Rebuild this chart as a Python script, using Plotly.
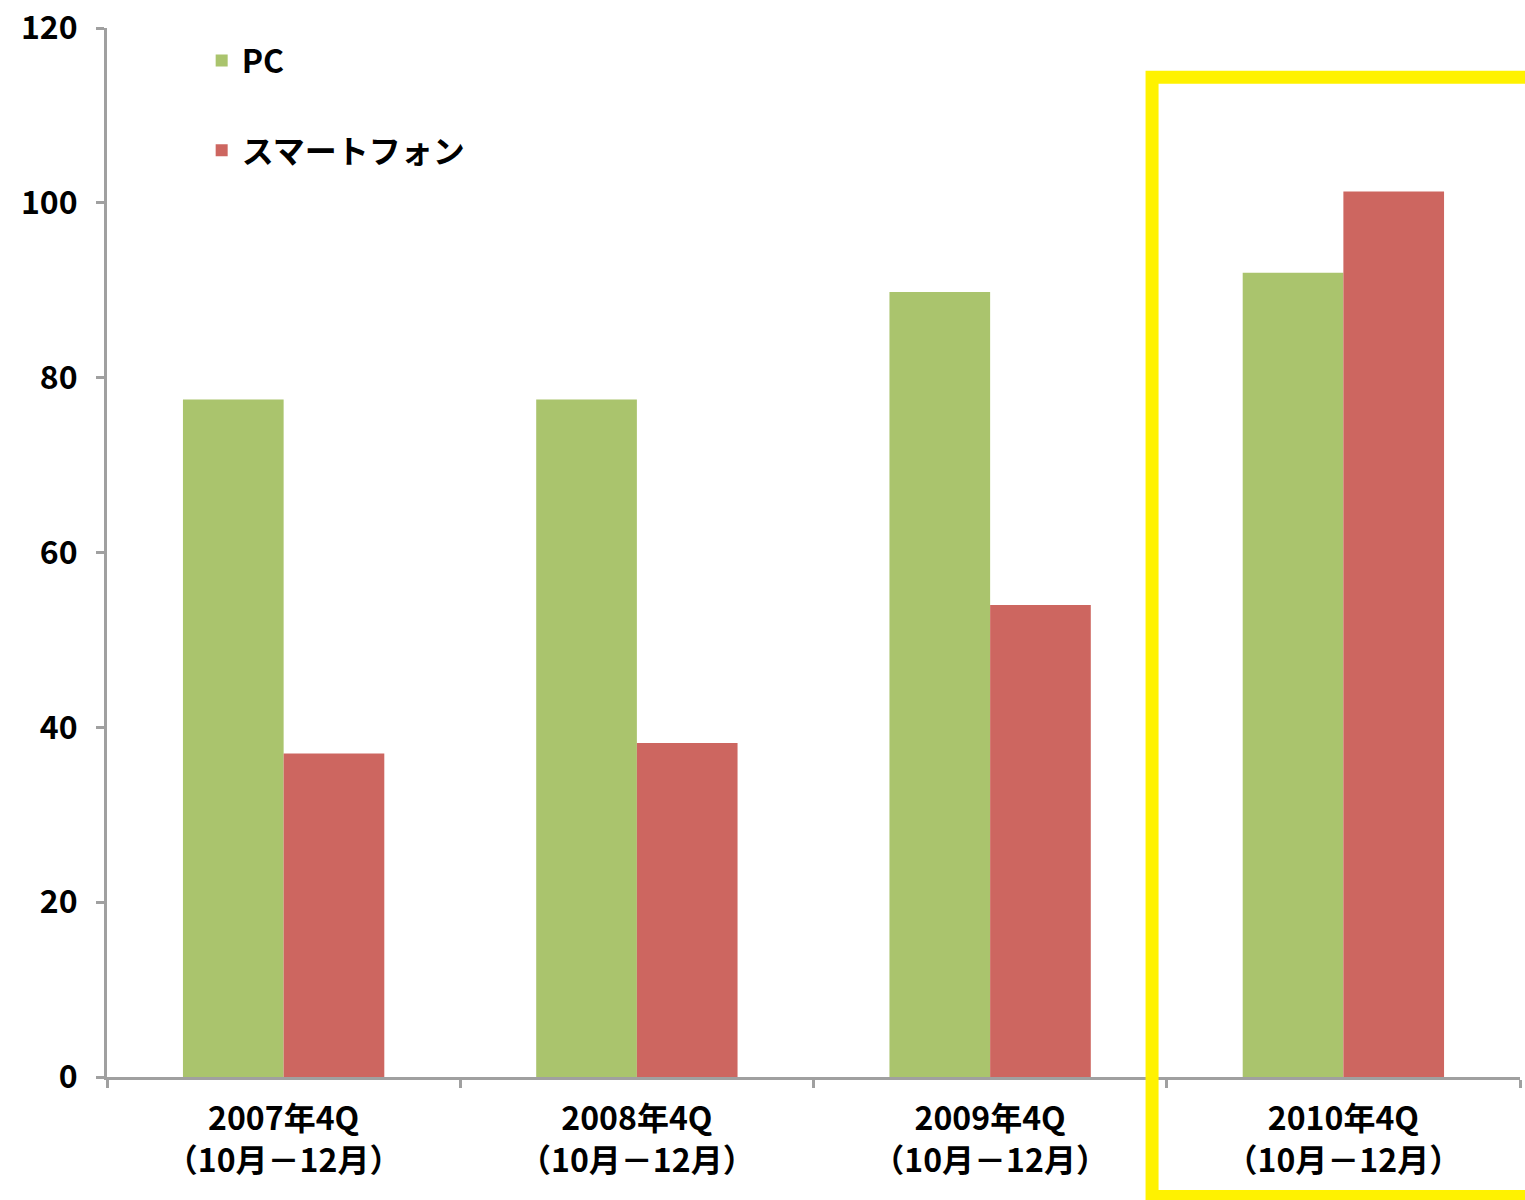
import plotly.graph_objects as go

categories = [
    "2007年4Q<br>（10月－12月）",
    "2008年4Q<br>（10月－12月）",
    "2009年4Q<br>（10月－12月）",
    "2010年4Q<br>（10月－12月）",
]
pc_values = [77.5, 77.5, 89.8, 92.0]
smartphone_values = [37.0, 38.2, 54.0, 101.3]
y_ticks = [0, 20, 40, 60, 80, 100, 120]

FONT = "Noto Sans CJK JP, Noto Sans, sans-serif"
AXIS_GRAY = "#A0A0A0"

fig = go.Figure()
fig.add_trace(go.Bar(
    x=categories, y=pc_values, name="PC",
    marker=dict(color="#AAC46D", line=dict(width=0)),
    legendgroup="pc",
))
fig.add_trace(go.Bar(
    x=categories, y=smartphone_values, name="スマートフォン",
    marker=dict(color="#CD6660", line=dict(width=0)),
    legendgroup="sp",
))

# highlight box around the latest quarter
fig.add_shape(
    type="rect", xref="paper", yref="paper",
    x0=0.7396, x1=1.02, y0=-0.114, y1=0.953,
    line=dict(color="#FFF200", width=13),
    fillcolor="rgba(0,0,0,0)",
    layer="above",
)

fig.update_layout(
    width=1525, height=1200,
    margin=dict(l=107, r=5, t=28, b=123, autoexpand=False),
    paper_bgcolor="white", plot_bgcolor="white",
    font=dict(family=FONT, size=30, color="black", weight="bold"),
    barmode="group", bargap=0.43, bargroupgap=0,
    showlegend=True,
    legend=dict(
        x=0.067, y=0.995, xanchor="left", yanchor="top",
        font=dict(size=32, weight="bold"),
        itemwidth=30, tracegroupgap=45,
        bgcolor="rgba(0,0,0,0)",
    ),
    xaxis=dict(
        showline=True, linecolor=AXIS_GRAY, linewidth=3,
        ticks="outside", tickson="boundaries", ticklen=8,
        tickcolor=AXIS_GRAY, tickwidth=3,
        tickfont=dict(size=32, weight="bold"),
        ticklabelstandoff=12, ticklabeloverflow="allow",
        showgrid=False, zeroline=False, automargin=False,
    ),
    yaxis=dict(
        range=[0, 120], tickvals=y_ticks,
        showline=True, linecolor=AXIS_GRAY, linewidth=3,
        ticks="outside", ticklen=8, tickcolor=AXIS_GRAY, tickwidth=3,
        tickfont=dict(size=32, weight="bold"),
        ticklabelstandoff=12, ticklabeloverflow="allow",
        showgrid=False, zeroline=False, automargin=False,
    ),
)

# drop the default 8px page margin so the figure fills the window
fig.write_html(
    "out.html",
    config={"displayModeBar": False},
    post_script="document.body.style.margin = '0';",
)
